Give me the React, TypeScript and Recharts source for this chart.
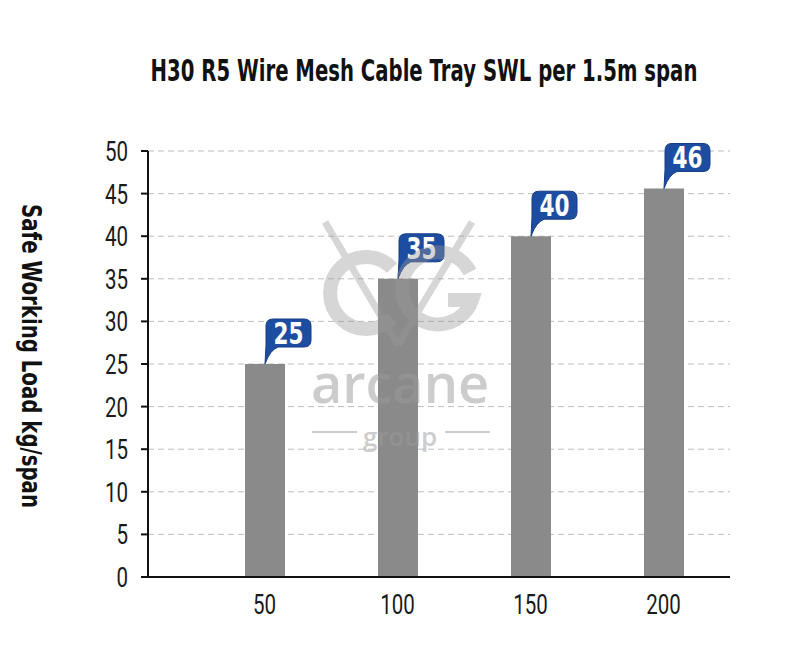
import React from "react";
import {
  Bar,
  BarChart,
  CartesianGrid,
  LabelList,
  XAxis,
  YAxis,
} from "recharts";

const widths = ["50", "100", "150", "200"];
const loads = [25, 35, 40, 45.6];
const yTicks = [0, 5, 10, 15, 20, 25, 30, 35, 40, 45, 50];

const data = widths.map((w, i) => ({ width: w, load: loads[i] }));

const SANS = "'DejaVu Sans', sans-serif";
const LIGHT = "Roboto, 'DejaVu Sans', sans-serif";

// no narrow fonts installed, so squeeze text horizontally
function NarrowText(props: any) {
  const { x, y, sx = 0.75, rotate = 0, children, ...rest } = props;
  return (
    <text
      transform={`translate(${x},${y}) rotate(${rotate}) scale(${sx},1)`}
      {...rest}
    >
      {children}
    </text>
  );
}

function XTick(props: any) {
  const { x, y, payload } = props;
  return (
    <NarrowText
      x={x}
      y={y + 29}
      sx={0.76}
      textAnchor="middle"
      fill="#1a1a1a"
      fontFamily={LIGHT}
      fontWeight={400}
      fontSize={27}
    >
      {payload.value}
    </NarrowText>
  );
}

function YTick(props: any) {
  const { x, y, payload } = props;
  return (
    <NarrowText
      x={x - 11}
      y={y + 10}
      sx={0.76}
      textAnchor="end"
      fill="#1a1a1a"
      fontFamily={LIGHT}
      fontWeight={400}
      fontSize={27}
    >
      {payload.value}
    </NarrowText>
  );
}

function YLabel(props: any) {
  const { viewBox } = props;
  const cy = viewBox.y + viewBox.height / 2;
  return (
    <NarrowText
      x={22}
      y={cy - 8}
      rotate={90}
      sx={0.76}
      textAnchor="middle"
      fill="#111"
      fontFamily={SANS}
      fontWeight="bold"
      fontSize={26}
    >
      Safe Working Load kg/span
    </NarrowText>
  );
}

function Callout(props: any) {
  const { x, y, width, value } = props;
  const tx = x + width / 2;
  const ty = y;
  const L = tx + 1;
  const R = L + 45;
  const T = ty - 45;
  const B = ty - 17;
  const r = 7;
  const d = `M${tx},${ty} L${L},${B - 2} L${L},${T + r} Q${L},${T} ${L + r},${T} L${R - r},${T} Q${R},${T} ${R},${T + r} L${R},${B - r} Q${R},${B} ${R - r},${B} L${L + 12},${B} Q${L + 4},${B + 3} ${tx},${ty} Z`;
  return (
    <g>
      <path d={d} fill="#1d4da0" stroke="#163d82" strokeWidth={1} />
      <NarrowText
        x={(L + R) / 2}
        y={(T + B) / 2 + 11}
        sx={0.72}
        textAnchor="middle"
        fill="#fff"
        fontFamily={SANS}
        fontWeight="bold"
        fontSize={30}
      >
        {Math.round(value)}
      </NarrowText>
    </g>
  );
}

function Overlay() {
  return (
    <svg
      width={800}
      height={667}
      style={{ position: "absolute", left: 0, top: 0, pointerEvents: "none" }}
    >
      <NarrowText
        x={424}
        y={81}
        sx={0.635}
        textAnchor="middle"
        fill="#111"
        fontFamily={SANS}
        fontWeight="bold"
        fontSize={31}
      >
        H30 R5 Wire Mesh Cable Tray SWL per 1.5m span
      </NarrowText>
      <g opacity={0.4} fill="none" stroke="#9a9a9a">
        <line x1={325} y1={222} x2={398} y2={345} strokeWidth={7} />
        <line x1={472} y1={222} x2={398} y2={345} strokeWidth={7} />
        <path d="M392,268 A36,36 0 1 0 392,318" strokeWidth={14} />
        <path d="M470,272 A36,36 0 1 0 472,300 L448,300" strokeWidth={14} />
      </g>
      <g opacity={0.5} fill="#9a9a9a" fontFamily="'Open Sans', sans-serif">
        <text x={400} y={403} textAnchor="middle" fontSize={54} fontWeight={600}>
          arcane
        </text>
        <text x={400} y={446} textAnchor="middle" fontSize={26} fontWeight={600}>
          group
        </text>
        <line x1={312} y1={432} x2={357} y2={432} stroke="#9a9a9a" strokeWidth={2} />
        <line x1={445} y1={432} x2={490} y2={432} stroke="#9a9a9a" strokeWidth={2} />
      </g>
    </svg>
  );
}

export default function App() {
  return (
    <div style={{ position: "absolute", left: 0, top: 0, width: 800, height: 667, background: "#fff" }}>
      <BarChart
        width={800}
        height={667}
        data={data}
        margin={{ top: 151, right: 70, bottom: 26, left: 88 }}
      >
        <CartesianGrid
          vertical={false}
          stroke="#bdbdbd"
          strokeDasharray="6 4"
        />
        <XAxis
          dataKey="width"
          padding={{ left: 50, right: 0 }}
          axisLine={{ stroke: "#111", strokeWidth: 2 }}
          tickLine={false}
          tick={<XTick />}
          height={64}
        />
        <YAxis
          domain={[0, 50]}
          ticks={yTicks}
          interval={0}
          width={60}
          axisLine={{ stroke: "#111", strokeWidth: 2 }}
          tickLine={{ stroke: "#111", strokeWidth: 2 }}
          tickSize={7}
          tick={<YTick />}
          label={<YLabel />}
        />
        <Bar dataKey="load" fill="#8a8a8a" barSize={40} isAnimationActive={false}>
          <LabelList dataKey="load" content={Callout} />
        </Bar>
      </BarChart>
      <Overlay />
    </div>
  );
}
